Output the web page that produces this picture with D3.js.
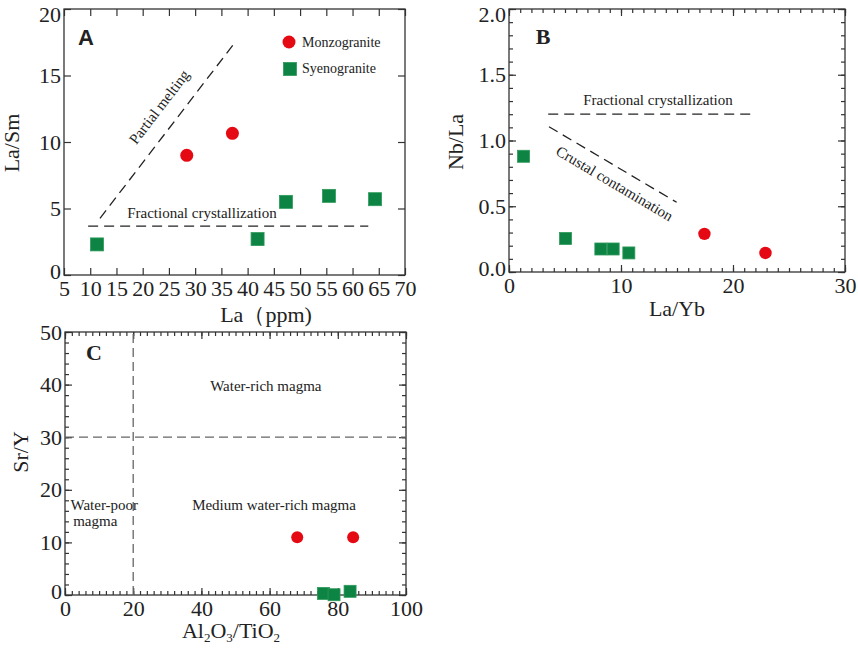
<!DOCTYPE html>
<html lang="en">
<head>
<meta charset="UTF-8">
<title>La/Sm, Nb/La, Sr/Y diagrams</title>
<script src="https://cdn.jsdelivr.net/npm/d3@7"></script>
<style>
  body { margin: 0; background: #fff; }
  svg text { font-family: "Liberation Serif", "Times New Roman", serif; fill: #222; }
</style>
</head>
<body>
<div id="chart"></div>
<script>
// ---- data ----
// A: La (ppm) vs La/Sm
var aMonzoLa = [28.4, 37.1];
var aMonzoLaSm = [9.0, 10.65];
var aSyenoLa = [11.3, 41.9, 47.3, 55.5, 64.3];
var aSyenoLaSm = [2.3, 2.7, 5.5, 5.95, 5.7];
var aTicksX = [5, 10, 15, 20, 25, 30, 35, 40, 45, 50, 55, 60, 65, 70];
var aTicksY = [0, 5, 10, 15, 20];

// B: La/Yb vs Nb/La
var bMonzoLaYb = [17.45, 22.9];
var bMonzoNbLa = [0.29, 0.145];
var bSyenoLaYb = [1.3, 5.05, 8.2, 9.3, 10.7];
var bSyenoNbLa = [0.88, 0.255, 0.175, 0.175, 0.145];
var bTicksX = [0, 10, 20, 30];
var bTicksY = [0, 0.5, 1.0, 1.5, 2.0];

// C: Al2O3/TiO2 vs Sr/Y
var cMonzoAlTi = [68.1, 84.5];
var cMonzoSrY = [11.0, 11.0];
var cSyenoAlTi = [75.8, 78.9, 83.6];
var cSyenoSrY = [0.3, 0.05, 0.7];
var cTicksX = [0, 20, 40, 60, 80, 100];
var cTicksY = [0, 10, 20, 30, 40, 50];

var red = "#e50914", green = "#0d8443";

var svg = d3.select("#chart").append("svg")
    .attr("width", 858).attr("height", 648);

function range(a, b, s) {
    var out = [];
    for (var v = a; v <= b + 1e-9; v += s) out.push(+v.toFixed(4));
    return out;
}

// frame, inward ticks on all sides, labels on left & bottom
function frame(x, y, o) {
    var g = svg.append("g");
    var x0 = x.range()[0], x1 = x.range()[1], y0 = y.range()[0], y1 = y.range()[1];
    var major = 7, minor = 4;

    function side(axisFn, scale, vals, len, fmt, transform, pad) {
        var ax = axisFn(scale).tickValues(vals).tickSizeInner(-len).tickSizeOuter(0).tickPadding(pad || 3);
        ax.tickFormat(fmt || "");
        var s = g.append("g").attr("transform", transform).call(ax);
        s.select(".domain").remove();
        s.selectAll("line").attr("stroke", "#333").attr("stroke-width", 1.2);
        s.selectAll("text").style("font-size", "22px").attr("fill", "#222")
            .style("font-family", "Liberation Serif");
        return s;
    }
    if (o.minorX) {
        side(d3.axisBottom, x, o.minorX, minor, null, "translate(0," + y0 + ")");
        side(d3.axisTop, x, o.minorX, minor, null, "translate(0," + y1 + ")");
    }
    if (o.minorY) {
        side(d3.axisLeft, y, o.minorY, minor, null, "translate(" + x0 + ",0)");
        side(d3.axisRight, y, o.minorY, minor, null, "translate(" + x1 + ",0)");
    }
    side(d3.axisBottom, x, o.ticksX, major, o.fmtX || d3.format("d"), "translate(0," + y0 + ")", 5);
    side(d3.axisTop, x, o.ticksX, major, null, "translate(0," + y1 + ")");
    var left = side(d3.axisLeft, y, o.ticksY, major, o.fmtY || d3.format("d"), "translate(" + x0 + ",0)");
    side(d3.axisRight, y, o.ticksY, major, null, "translate(" + x1 + ",0)");

    // nudge the end labels: top one off the page edge, bottom one clear of the x labels
    var lo = d3.min(o.ticksY), hi = d3.max(o.ticksY);
    left.selectAll(".tick").filter(function(d) { return d === lo; })
        .select("text").attr("y", -4);
    if (o.topShift) {
        left.selectAll(".tick").filter(function(d) { return d === hi; })
            .select("text").attr("y", o.topShift);
    }

    g.append("rect")
        .attr("x", x0).attr("y", y1)
        .attr("width", x1 - x0).attr("height", y0 - y1)
        .attr("fill", "none").attr("stroke", "#333").attr("stroke-width", 1.3);
    return g;
}

function dashed(x, y, p, q, dash, color) {
    svg.append("line")
        .attr("x1", x(p[0])).attr("y1", y(p[1]))
        .attr("x2", x(q[0])).attr("y2", y(q[1]))
        .attr("stroke", color || "#222").attr("stroke-width", 1.3)
        .attr("stroke-dasharray", dash || "10,6");
}

function note(x, y, px, py, txt, opt) {
    opt = opt || {};
    var t = svg.append("text")
        .attr("x", x(px)).attr("y", y(py))
        .attr("text-anchor", opt.anchor || "middle")
        .style("font-size", (opt.size || 15) + "px")
        .attr("fill", "#333")
        .text(txt);
    if (opt.angle) t.attr("transform", "rotate(" + opt.angle + "," + x(px) + "," + y(py) + ")");
    return t;
}

function slope(x, y, p, q) {
    return Math.atan2(y(q[1]) - y(p[1]), x(q[0]) - x(p[0])) * 180 / Math.PI;
}

function circles(x, y, xs, ys, r) {
    svg.append("g").selectAll("circle").data(xs).enter().append("circle")
        .attr("cx", function(d) { return x(d); })
        .attr("cy", function(d, i) { return y(ys[i]); })
        .attr("r", r).attr("fill", red);
}

function squares(x, y, xs, ys, s) {
    svg.append("g").selectAll("rect").data(xs).enter().append("rect")
        .attr("x", function(d) { return x(d) - s / 2; })
        .attr("y", function(d, i) { return y(ys[i]) - s / 2; })
        .attr("width", s).attr("height", s)
        .attr("fill", green).attr("stroke", "#2e9a5a").attr("stroke-width", 0.8);
}

function yTitle(px, py, content) {
    return svg.append("text")
        .attr("transform", "translate(" + px + "," + py + ") rotate(-90)")
        .attr("text-anchor", "middle").attr("dominant-baseline", "central")
        .style("font-size", "22px").text(content);
}

// ---------------- Panel A ----------------
var xA = d3.scaleLinear().domain([5, 70]).range([64, 405]);
var yA = d3.scaleLinear().domain([0, 20]).range([275, 9]);
frame(xA, yA, { ticksX: aTicksX, ticksY: aTicksY, topShift: 5 });

var pmA = [[11.86, 4.26], [37.46, 17.42]];
var fcA = [[9.6, 3.68], [63.0, 3.68]];
dashed(xA, yA, pmA[0], pmA[1]);
dashed(xA, yA, fcA[0], fcA[1]);
note(xA, yA, 23.9, 12.4, "Partial melting", { angle: slope(xA, yA, pmA[0], pmA[1]) });
note(xA, yA, 31.3, 4.3, "Fractional crystallization");

squares(xA, yA, aSyenoLa, aSyenoLaSm, 13);
circles(xA, yA, aMonzoLa, aMonzoLaSm, 6.5);

svg.append("text").attr("x", 86).attr("y", 45).attr("text-anchor", "middle")
    .style("font-family", "Liberation Sans").style("font-weight", "bold")
    .style("font-size", "22px").text("A");

// legend
svg.append("circle").attr("cx", 289).attr("cy", 42).attr("r", 6.5).attr("fill", red);
svg.append("text").attr("x", 302).attr("y", 47).style("font-size", "14px").attr("fill", "#333").text("Monzogranite");
svg.append("rect").attr("x", 283.5).attr("y", 62.5).attr("width", 13).attr("height", 13)
    .attr("fill", green).attr("stroke", "#2e9a5a").attr("stroke-width", 0.8);
svg.append("text").attr("x", 302).attr("y", 73).style("font-size", "14px").attr("fill", "#333").text("Syenogranite");

yTitle(11, 143, "La/Sm");
svg.append("text").attr("x", 266).attr("y", 322).attr("text-anchor", "middle")
    .style("font-size", "22px").text("La（ppm)");

// ---------------- Panel B ----------------
var xB = d3.scaleLinear().domain([0, 30]).range([509, 845]);
var yB = d3.scaleLinear().domain([0, 2]).range([272, 9]);
frame(xB, yB, { ticksX: bTicksX, ticksY: bTicksY, minorX: range(0, 30, 1), minorY: range(0, 2, 0.1),
    fmtY: d3.format(".1f"), topShift: 5 });

var fcB = [[3.5, 1.2], [21.7, 1.2]];
var ccB = [[3.57, 1.105], [14.97, 0.53]];
dashed(xB, yB, fcB[0], fcB[1]);
dashed(xB, yB, ccB[0], ccB[1]);
note(xB, yB, 13.3, 1.27, "Fractional crystallization");
note(xB, yB, 9.2, 0.64, "Crustal contamination", { angle: slope(xB, yB, ccB[0], ccB[1]) });

squares(xB, yB, bSyenoLaYb, bSyenoNbLa, 12);
circles(xB, yB, bMonzoLaYb, bMonzoNbLa, 6.2);

svg.append("text").attr("x", 543).attr("y", 44).attr("text-anchor", "middle")
    .style("font-weight", "bold").style("font-size", "22px").text("B");

yTitle(455, 142, "Nb/La");
svg.append("text").attr("x", 677).attr("y", 316).attr("text-anchor", "middle")
    .style("font-size", "22px").text("La/Yb");

// ---------------- Panel C ----------------
var xC = d3.scaleLinear().domain([0, 100]).range([65, 406]);
var yC = d3.scaleLinear().domain([0, 50]).range([595, 332]);
frame(xC, yC, { ticksX: cTicksX, ticksY: cTicksY, minorX: range(0, 100, 2), minorY: range(0, 50, 2) });

dashed(xC, yC, [20, 0], [20, 50], "9,5", "#666");
dashed(xC, yC, [0, 30], [100, 30], "9,5", "#666");

note(xC, yC, 58.9, 38.8, "Water-rich magma");
note(xC, yC, 61.3, 16.2, "Medium water-rich magma");
note(xC, yC, 1.6, 16.2, "Water-poor", { anchor: "start" });
note(xC, yC, 2.4, 13.2, "magma", { anchor: "start" });

squares(xC, yC, cSyenoAlTi, cSyenoSrY, 12);
circles(xC, yC, cMonzoAlTi, cMonzoSrY, 6);

svg.append("text").attr("x", 94).attr("y", 360).attr("text-anchor", "middle")
    .style("font-weight", "bold").style("font-size", "22px").text("C");

yTitle(20, 452, "Sr/Y");
var t = svg.append("text").attr("x", 231).attr("y", 638).attr("text-anchor", "middle")
    .style("font-size", "22px");
t.append("tspan").text("Al");
t.append("tspan").attr("dy", 4).style("font-size", "13px").text("2");
t.append("tspan").attr("dy", -4).text("O");
t.append("tspan").attr("dy", 4).style("font-size", "13px").text("3");
t.append("tspan").attr("dy", -4).text("/TiO");
t.append("tspan").attr("dy", 4).style("font-size", "13px").text("2");
</script>
</body>
</html>
